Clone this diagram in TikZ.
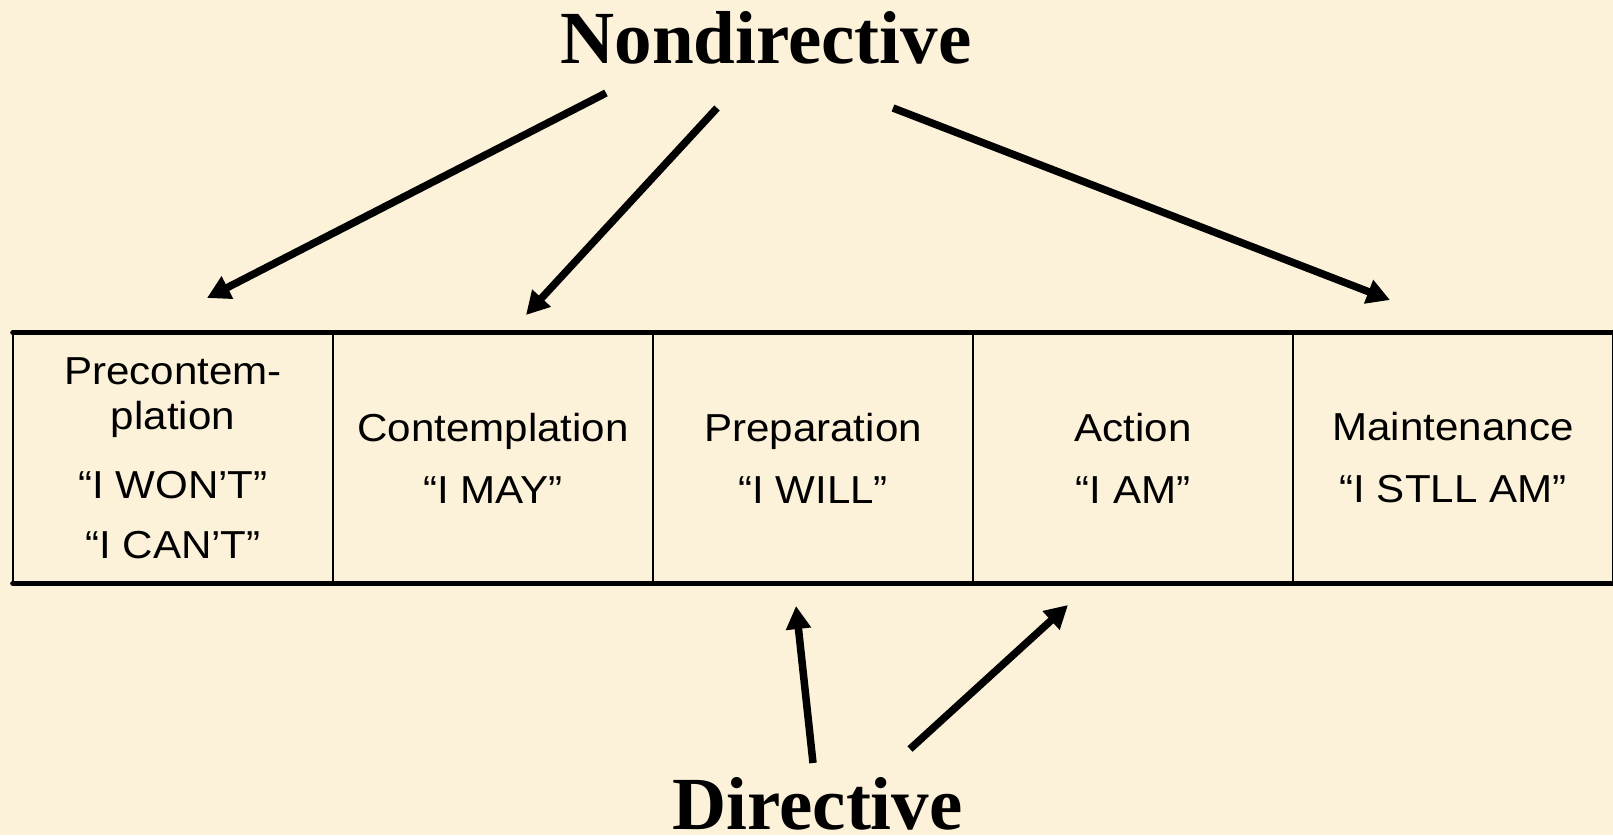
\documentclass[tikz,border=0pt]{standalone}
\usepackage{fontspec}
\newfontfamily\bodyfont[FakeStretch=1.08]{Liberation Sans}
\newfontfamily\titlefont{Liberation Serif}
\usetikzlibrary{arrows.meta}
\definecolor{bgcream}{RGB}{252,242,218}
\tikzset{
  cell/.style={minimum width=320pt, minimum height=250pt, inner sep=0pt, align=center,
    font=\bodyfont\fontsize{39}{45}\selectfont},
  hrule/.style={line width=5.2pt, line cap=round},
  vrule/.style={line width=2.5pt},
  bigarrow/.style={line width=7.5pt, -{Triangle[length=23pt,width=24pt]}},
  heading/.style={inner sep=0pt, anchor=base, font=\titlefont\bfseries\fontsize{75}{80}\selectfont}
}
\begin{document}
\begin{tikzpicture}[x=1pt,y=-1pt]
\fill[bgcream] (0,0) rectangle (1613,835);
\useasboundingbox (0,0) rectangle (1613,835);

% cells
\node[cell] (c1) at (173,458) {Precontem-\\plation\\[24pt]“I WON’T”\\[15pt]“I CAN’T”};
\node[cell] (c2) at (493,458) {Contemplation\\[17pt]“I MAY”};
\node[cell] (c3) at (813,458) {Preparation\\[17pt]“I WILL”};
\node[cell] (c4) at (1133,458) {Action\\[17pt]“I AM”};
\node[cell] (c5) at (1453,458) {Maintenance\\[17pt]“I STLL AM”};

% table rules
\draw[vrule] (c1.north west) -- (c1.south west);
\draw[vrule] (c1.north east) -- (c1.south east);
\draw[vrule] (c2.north east) -- (c2.south east);
\draw[vrule] (c3.north east) -- (c3.south east);
\draw[vrule] (c4.north east) -- (c4.south east);
\draw[vrule] (c5.north east) -- (c5.south east);
\draw[hrule] (c1.north west) -- (c5.north east);
\draw[hrule] (c1.south west) -- (c5.south east);

% headings
\node[heading] (nd) at (766,63) {Nondirective};
\node[heading] (dir) at (817.5,829) {Directive};

% arrow end points
\coordinate (s1) at (606,93);
\coordinate (s2) at (717,108);
\coordinate (s3) at (893,108);
\coordinate (e1) at (207,298);
\coordinate (e2) at (526,315);
\coordinate (e3) at (1390,300);
\coordinate (d1) at (813,763);
\coordinate (d2) at (910,749);
\coordinate (f1) at (796,606);
\coordinate (f2) at (1068,605);

\draw[bigarrow] (s1) -- (e1);
\draw[bigarrow] (s2) -- (e2);
\draw[bigarrow] (s3) -- (e3);
\draw[bigarrow] (d1) -- (f1);
\draw[bigarrow] (d2) -- (f2);
\end{tikzpicture}
\end{document}
